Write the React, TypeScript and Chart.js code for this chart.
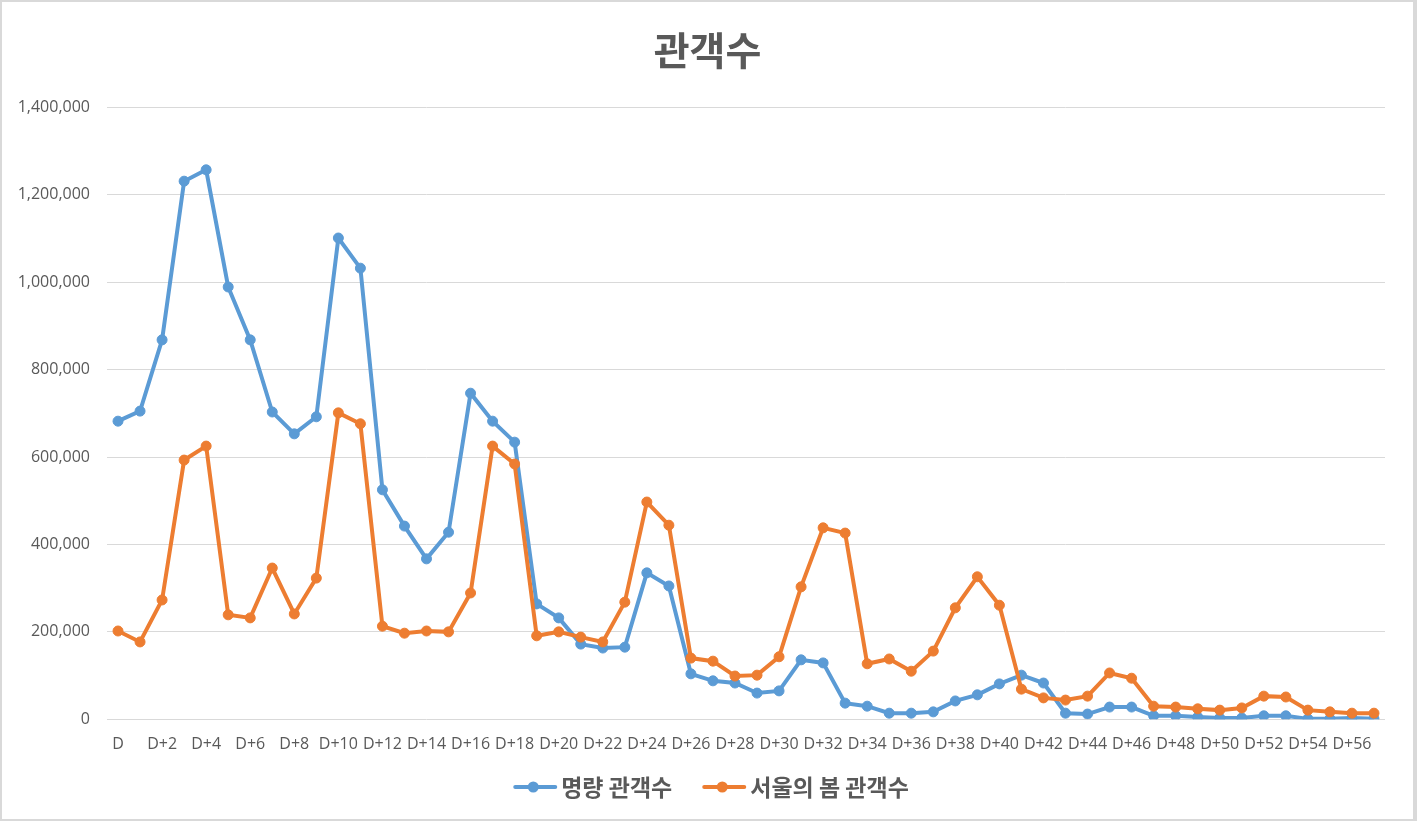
import React, { useEffect, useRef } from 'react';
import { Chart, registerables } from 'chart.js';

Chart.register(...registerables);

const categories = [
  'D', 'D+1', 'D+2', 'D+3', 'D+4', 'D+5', 'D+6', 'D+7', 'D+8', 'D+9',
  'D+10', 'D+11', 'D+12', 'D+13', 'D+14', 'D+15', 'D+16', 'D+17', 'D+18', 'D+19',
  'D+20', 'D+21', 'D+22', 'D+23', 'D+24', 'D+25', 'D+26', 'D+27', 'D+28', 'D+29',
  'D+30', 'D+31', 'D+32', 'D+33', 'D+34', 'D+35', 'D+36', 'D+37', 'D+38', 'D+39',
  'D+40', 'D+41', 'D+42', 'D+43', 'D+44', 'D+45', 'D+46', 'D+47', 'D+48', 'D+49',
  'D+50', 'D+51', 'D+52', 'D+53', 'D+54', 'D+55', 'D+56', 'D+57',
];

const myungryang = [
  682000, 705000, 868000, 1231000, 1257000, 989000, 868000, 703000, 653000, 692000,
  1101000, 1032000, 525000, 442000, 367000, 428000, 746000, 682000, 634000, 264000,
  232000, 172000, 163000, 165000, 335000, 305000, 104000, 88000, 83000, 60000,
  65000, 136000, 129000, 37000, 30000, 14000, 14000, 17000, 42000, 56000,
  81000, 101000, 83000, 14000, 12000, 28000, 28000, 8000, 8000, 5000,
  3000, 3000, 8000, 8000, 1000, 1000, 3000, 1000,
];

const seoulSpring = [
  202000, 177000, 273000, 593000, 625000, 239000, 232000, 346000, 241000, 323000,
  701000, 676000, 213000, 197000, 202000, 200000, 289000, 625000, 584000, 191000,
  200000, 188000, 177000, 268000, 497000, 444000, 140000, 133000, 99000, 101000,
  143000, 303000, 438000, 426000, 127000, 138000, 110000, 156000, 255000, 326000,
  261000, 69000, 49000, 44000, 53000, 106000, 94000, 30000, 28000, 24000,
  21000, 26000, 53000, 51000, 21000, 17000, 14000, 14000,
];

const seriesNames = ['명량 관객수', '서울의 봄 관객수'];
const seriesColors = ['#5B9BD5', '#ED7D31'];
const chartTitle = '관객수';
const yMin = 0;
const yMax = 1400000;
const yStep = 200000;

const TEXT = '#595959';
const GRID = '#d9d9d9';
const LEGEND_FONT = 23;
const LEGEND_BOX = 43.5;

function makeLegendSymbol(color: string): HTMLCanvasElement {
  const c = document.createElement('canvas');
  const W = 100;
  const H = 16;
  c.width = W;
  c.height = H;
  const ctx = c.getContext('2d')!;
  const a = 7 - LEGEND_BOX / 2 + W / 2;
  ctx.strokeStyle = color;
  ctx.lineWidth = 4;
  ctx.lineCap = 'round';
  ctx.beginPath();
  ctx.moveTo(a + 2, H / 2);
  ctx.lineTo(a + 42, H / 2);
  ctx.stroke();
  ctx.fillStyle = color;
  ctx.beginPath();
  ctx.arc(a + 20, H / 2, 5.5, 0, Math.PI * 2);
  ctx.fill();
  return c;
}

export default function App() {
  const ref = useRef<HTMLCanvasElement | null>(null);

  useEffect(() => {
    if (!ref.current) return;
    document.body.style.margin = '0';
    const symbols = seriesColors.map(makeLegendSymbol);

    const chart = new Chart(ref.current, {
      type: 'line',
      data: {
        labels: categories,
        datasets: [
          {
            label: seriesNames[0],
            data: myungryang,
            borderColor: seriesColors[0],
            backgroundColor: seriesColors[0],
            pointBackgroundColor: seriesColors[0],
            pointBorderColor: seriesColors[0],
            borderWidth: 4,
            pointRadius: 5,
            pointBorderWidth: 1,
            tension: 0,
            order: 2,
            yAxisID: 'y',
          },
          {
            label: seriesNames[1],
            data: seoulSpring,
            borderColor: seriesColors[1],
            backgroundColor: seriesColors[1],
            pointBackgroundColor: seriesColors[1],
            pointBorderColor: seriesColors[1],
            borderWidth: 4,
            pointRadius: 5,
            pointBorderWidth: 1,
            tension: 0,
            order: 1,
            yAxisID: 'y',
          },
        ],
      },
      options: {
        responsive: false,
        animation: false,
        layout: { padding: { left: 0, right: 0, top: 0, bottom: 10.5 } },
        plugins: {
          tooltip: { enabled: false },
          title: {
            display: true,
            text: chartTitle,
            color: TEXT,
            font: { family: "'Noto Sans CJK KR', sans-serif", size: 39, weight: 'bold' },
            padding: { top: 25, bottom: 33.5 },
          },
          legend: {
            display: true,
            position: 'bottom',
            labels: {
              color: TEXT,
              font: { family: "'Noto Sans CJK KR', sans-serif", size: LEGEND_FONT, weight: 'bold' },
              usePointStyle: true,
              pointStyleWidth: LEGEND_BOX,
              padding: 23,
              generateLabels: (ch: any) => {
                const items = Chart.defaults.plugins.legend.labels.generateLabels(ch);
                items.sort((p: any, q: any) => p.datasetIndex - q.datasetIndex);
                return items.map((it: any) => ({ ...it, pointStyle: symbols[it.datasetIndex] }));
              },
            },
          },
        },
        scales: {
          x: {
            offset: true,
            grid: { display: false, drawTicks: false },
            border: { display: false },
            afterFit: (scale: any) => {
              scale.height = 33.2;
            },
            ticks: {
              autoSkip: false,
              maxRotation: 0,
              minRotation: 0,
              padding: 16,
              color: TEXT,
              font: { family: "'Open Sans', sans-serif", size: 16 },
              callback: (_v: any, i: number) => (i % 2 === 0 ? categories[i] : ''),
            },
          },
          y: {
            min: yMin,
            max: yMax,
            grid: { color: GRID, lineWidth: 1, drawTicks: false },
            border: { display: false },
            afterFit: (scale: any) => {
              scale.width = 105;
            },
            ticks: {
              stepSize: yStep,
              padding: 17,
              color: TEXT,
              font: { family: "'Open Sans', sans-serif", size: 16 },
              callback: (v: any) => Number(v).toLocaleString('en-US'),
            },
          },
          yRight: {
            type: 'linear',
            position: 'right',
            display: true,
            grid: { display: false, drawTicks: false },
            border: { display: false },
            ticks: { display: false },
            afterFit: (scale: any) => {
              scale.width = 28;
            },
          },
        },
      },
    });
    return () => chart.destroy();
  }, []);

  return (
    <div
      style={{
        position: 'absolute',
        left: 0,
        top: 0,
        width: 1417,
        height: 821,
        boxSizing: 'border-box',
        borderStyle: 'solid',
        borderColor: GRID,
        borderWidth: '2px 4px 2px 2px',
        background: '#ffffff',
      }}
    >
      <canvas ref={ref} width={1411} height={817} style={{ display: 'block', width: 1411, height: 817 }} />
    </div>
  );
}
